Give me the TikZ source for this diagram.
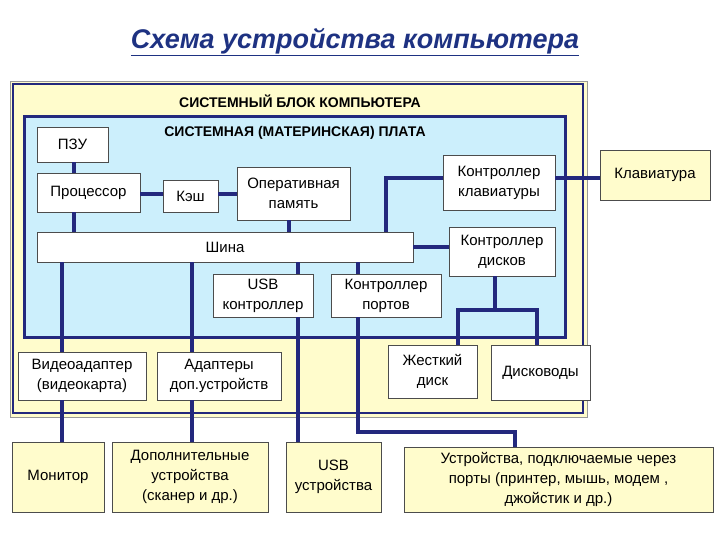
\documentclass[tikz,border=0pt]{standalone}
\usepackage{fontspec}
\setmainfont{Liberation Sans}
\begin{document}
\begin{tikzpicture}[x=1pt,y=-1pt,
  box/.style={draw=black!70,fill=white,line width=0.6pt,align=center,inner sep=1pt,font=\fontsize{15}{20}\selectfont},
  ybox/.style={box,fill=yellow!20},
  ln/.style={line width=4pt,draw={rgb,255:red,35;green,40;blue,125}}]
\definecolor{dblue}{RGB}{35,40,125}
\useasboundingbox (0,0) rectangle (720,540);
\fill[white] (0,0) rectangle (720,540);
\node[font=\fontsize{27}{30}\selectfont\bfseries\itshape,text={rgb,255:red,30;green,50;blue,130}] (title) at (355,42) {\underline{Схема устройства компьютера}};
% outer
\draw[fill=yellow!20,draw=black!40,line width=0.8pt] (10,81) rectangle (587,417);
\draw[draw=dblue,line width=2.5pt] (13,84) rectangle (583,413);
\node[font=\fontsize{14}{16}\selectfont\bfseries] (sb) at (300,101) {СИСТЕМНЫЙ БЛОК КОМПЬЮТЕРА};
\draw[fill=cyan!20,draw=dblue,line width=3pt] (24,117) rectangle (565,337);
\node[font=\fontsize{14}{16}\selectfont\bfseries] (mb) at (295,133) {СИСТЕМНАЯ (МАТЕРИНСКАЯ) ПЛАТА};
% nodes
\node[box,minimum width=71,minimum height=35] (rom) at (72.5,144.5) {ПЗУ};
\node[box,minimum width=103,minimum height=39] (cpu) at (88.5,192.5) {Процессор};
\node[box,minimum width=55,minimum height=32] (cache) at (190.5,196) {Кэш};
\node[box,minimum width=113,minimum height=53] (ram) at (293.5,193.5) {Оперативная\\память};
\node[box,minimum width=112,minimum height=55] (kbc) at (499,182.5) {Контроллер\\клавиатуры};
\node[ybox,minimum width=110,minimum height=50] (kb) at (655,175) {Клавиатура};
\node[box,minimum width=376,minimum height=30] (bus) at (225,247) {Шина};
\node[box,minimum width=106,minimum height=49] (dc) at (502,251.5) {Контроллер\\дисков};
\node[box,minimum width=100,minimum height=43] (usbc) at (263,295.5) {USB\\контроллер};
\node[box,minimum width=110,minimum height=43] (pc) at (386,295.5) {Контроллер\\портов};
\node[box,minimum width=89,minimum height=53] (hdd) at (432.5,371.5) {Жесткий\\диск};
\node[box,minimum width=99,minimum height=55] (fdd) at (540.5,372.5) {Дисководы};
\node[box,minimum width=128,minimum height=48] (vid) at (82,376) {Видеоадаптер\\(видеокарта)};
\node[box,minimum width=124,minimum height=48] (adp) at (219,376) {Адаптеры\\доп.устройств};
\node[ybox,minimum width=92,minimum height=70] (mon) at (58,477) {Монитор};
\node[ybox,minimum width=156,minimum height=70] (ext) at (190,477) {Дополнительные\\устройства\\(сканер и др.)};
\node[ybox,minimum width=95,minimum height=70] (usb) at (333.5,477) {USB\\устройства};
\node[ybox,minimum width=309,minimum height=65] (prt) at (558.5,479.5) {Устройства, подключаемые через\\порты (принтер, мышь, модем ,\\джойстик и др.)};
% connectors
\coordinate (j0) at (0,194);
\coordinate (j1) at (386,178);
\coordinate (j2) at (458,310);
\coordinate (j3) at (537,310);
\coordinate (j4) at (358,432);
\coordinate (j5) at (515,432);
\draw[ln] (74,0 |- rom.south) -- (74,0 |- cpu.north);
\draw[ln] (cpu.east |- j0) -- (cache.west |- j0);
\draw[ln] (cache.east |- j0) -- (ram.west |- j0);
\draw[ln] (74,0 |- cpu.south) -- (74,0 |- bus.north);
\draw[ln] (289,0 |- ram.south) -- (289,0 |- bus.north);
\draw[ln] (j1 |- bus.north) -- (j1) -- (kbc.west |- j1);
\draw[ln] (kbc.east |- j1) -- (kb.west |- j1);
\draw[ln] (bus.east) -- (dc.west |- bus.east);
\draw[ln] (495,0 |- dc.south) -- (495,0 |- j2);
\draw[ln] (j2 |- hdd.north) -- (j2) -- (j3) -- (j3 |- fdd.north);
\draw[ln] (62,0 |- bus.south) -- (62,0 |- vid.north);
\draw[ln] (62,0 |- vid.south) -- (62,0 |- mon.north);
\draw[ln] (192,0 |- bus.south) -- (192,0 |- adp.north);
\draw[ln] (192,0 |- adp.south) -- (192,0 |- ext.north);
\draw[ln] (298,0 |- bus.south) -- (298,0 |- usbc.north);
\draw[ln] (298,0 |- usbc.south) -- (298,0 |- usb.north);
\draw[ln] (358,0 |- bus.south) -- (358,0 |- pc.north);
\draw[ln] (358,0 |- pc.south) -- (j4) -- (j5) -- (j5 |- prt.north);
\end{tikzpicture}
\end{document}
